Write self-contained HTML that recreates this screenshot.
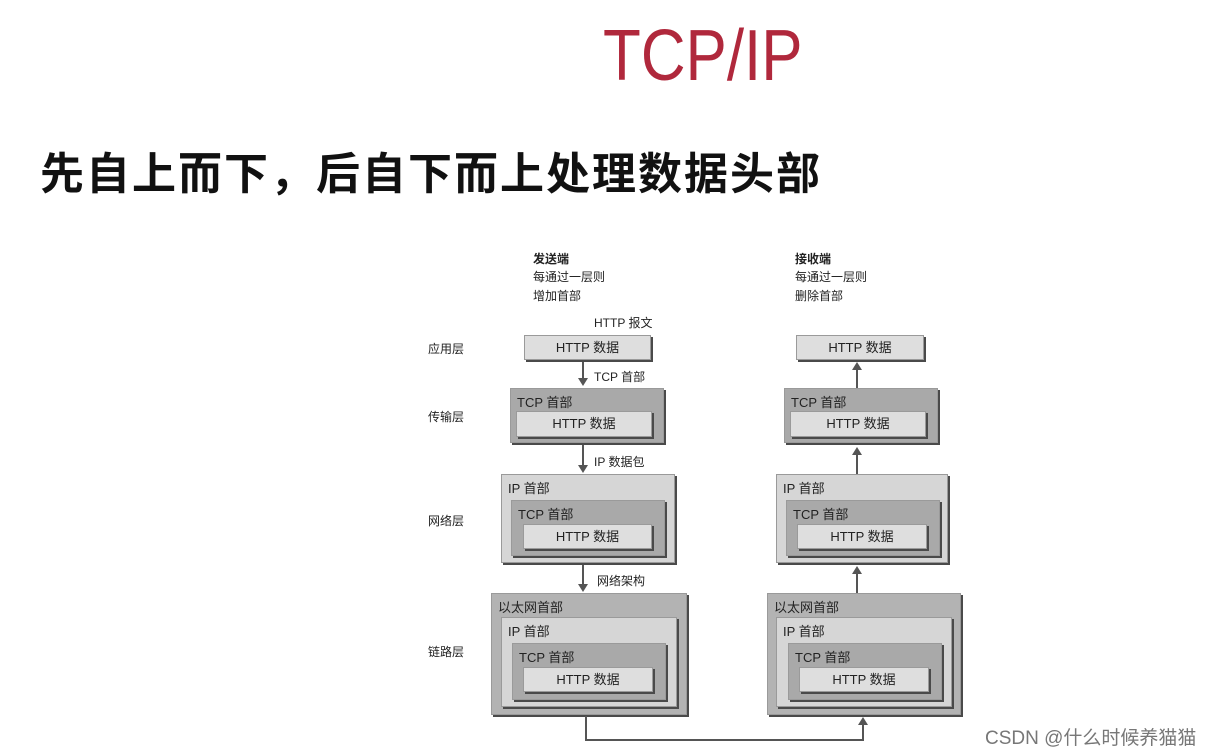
<!DOCTYPE html>
<html><head><meta charset="utf-8"><style>
body{margin:0;width:1221px;height:753px;background:#fff;position:relative;overflow:hidden;font-family:"Liberation Sans","Noto Sans CJK SC",sans-serif}
.a{position:absolute}
.b{position:absolute;box-sizing:border-box;border:1px solid #9a9a9a;box-shadow:2px 2px 0 #4a4a4a}
.l{background:#dedede}.m{background:#a9a9a9}.p{background:#d6d6d6}.e{background:#b3b3b3}
.t{position:absolute;font-size:12px;color:#222;white-space:nowrap}
.bx{font-size:13px;color:#222;white-space:nowrap}
.c{text-align:center;line-height:23px}
.v{position:absolute;width:2px;background:#555}
.ad{position:absolute;width:0;height:0;border-left:5px solid transparent;border-right:5px solid transparent;border-top:8px solid #555}
.au{position:absolute;width:0;height:0;border-left:5px solid transparent;border-right:5px solid transparent;border-bottom:8px solid #555}
</style></head><body>
<div class="a" style="left:603px;top:16px;font-size:72px;color:#b0283c;transform:scaleX(0.86);transform-origin:left top;line-height:80px">TCP/IP</div>
<div class="a" style="left:40px;top:140px;font-size:44px;font-weight:bold;letter-spacing:2px;color:#111;line-height:60px;font-family:'Noto Sans CJK SC',sans-serif">先自上而下，后自下而上处理数据头部</div>

<div class="t" style="left:533px;top:250px;font-weight:bold">发送端</div>
<div class="t" style="left:533px;top:268px">每通过一层则</div>
<div class="t" style="left:533px;top:287px">增加首部</div>
<div class="t" style="left:795px;top:250px;font-weight:bold">接收端</div>
<div class="t" style="left:795px;top:268px">每通过一层则</div>
<div class="t" style="left:795px;top:287px">删除首部</div>
<div class="t" style="left:594px;top:314px">HTTP 报文</div>

<div class="t" style="left:428px;top:340px">应用层</div>
<div class="t" style="left:428px;top:408px">传输层</div>
<div class="t" style="left:428px;top:512px">网络层</div>
<div class="t" style="left:428px;top:643px">链路层</div>

<div class="b l bx c" style="left:524px;top:335px;width:127px;height:25px">HTTP 数据</div>
<div class="b m bx" style="left:510px;top:388px;width:154px;height:55px"><div style="padding:3px 6px">TCP 首部</div></div>
<div class="b l bx c" style="left:516px;top:411px;width:136px;height:26px">HTTP 数据</div>

<div class="b p bx" style="left:501px;top:474px;width:174px;height:89px"><div style="padding:3px 6px">IP 首部</div></div>
<div class="b m bx" style="left:511px;top:500px;width:154px;height:56px"><div style="padding:3px 6px">TCP 首部</div></div>
<div class="b l bx c" style="left:523px;top:524px;width:129px;height:25px">HTTP 数据</div>

<div class="b e bx" style="left:491px;top:593px;width:196px;height:122px"><div style="padding:3px 6px">以太网首部</div></div>
<div class="b p bx" style="left:501px;top:617px;width:176px;height:90px"><div style="padding:3px 6px">IP 首部</div></div>
<div class="b m bx" style="left:512px;top:643px;width:154px;height:57px"><div style="padding:3px 6px">TCP 首部</div></div>
<div class="b l bx c" style="left:523px;top:667px;width:130px;height:25px">HTTP 数据</div>

<div class="b l bx c" style="left:796px;top:335px;width:128px;height:25px">HTTP 数据</div>
<div class="b m bx" style="left:784px;top:388px;width:154px;height:55px"><div style="padding:3px 6px">TCP 首部</div></div>
<div class="b l bx c" style="left:790px;top:411px;width:136px;height:26px">HTTP 数据</div>

<div class="b p bx" style="left:776px;top:474px;width:172px;height:89px"><div style="padding:3px 6px">IP 首部</div></div>
<div class="b m bx" style="left:786px;top:500px;width:154px;height:56px"><div style="padding:3px 6px">TCP 首部</div></div>
<div class="b l bx c" style="left:797px;top:524px;width:130px;height:25px">HTTP 数据</div>

<div class="b e bx" style="left:767px;top:593px;width:194px;height:122px"><div style="padding:3px 6px">以太网首部</div></div>
<div class="b p bx" style="left:776px;top:617px;width:176px;height:90px"><div style="padding:3px 6px">IP 首部</div></div>
<div class="b m bx" style="left:788px;top:643px;width:154px;height:57px"><div style="padding:3px 6px">TCP 首部</div></div>
<div class="b l bx c" style="left:799px;top:667px;width:130px;height:25px">HTTP 数据</div>

<div class="v" style="left:582px;top:362px;height:18px"></div><div class="ad" style="left:578px;top:378px"></div>
<div class="t" style="left:594px;top:368px">TCP 首部</div>
<div class="v" style="left:582px;top:445px;height:21px"></div><div class="ad" style="left:578px;top:465px"></div>
<div class="t" style="left:594px;top:453px">IP 数据包</div>
<div class="v" style="left:582px;top:565px;height:20px"></div><div class="ad" style="left:578px;top:584px"></div>
<div class="t" style="left:597px;top:572px">网络架构</div>

<div class="v" style="left:856px;top:369px;height:19px"></div><div class="au" style="left:852px;top:362px"></div>
<div class="v" style="left:856px;top:455px;height:19px"></div><div class="au" style="left:852px;top:447px"></div>
<div class="v" style="left:856px;top:574px;height:19px"></div><div class="au" style="left:852px;top:566px"></div>

<div class="v" style="left:585px;top:716px;height:25px"></div>
<div class="a" style="left:585px;top:739px;width:279px;height:2px;background:#555"></div>
<div class="v" style="left:862px;top:724px;height:17px"></div><div class="au" style="left:858px;top:717px"></div>

<div class="a" style="left:985px;top:723px;font-size:19px;color:#777;white-space:nowrap">CSDN @什么时候养猫猫</div>
</body></html>
